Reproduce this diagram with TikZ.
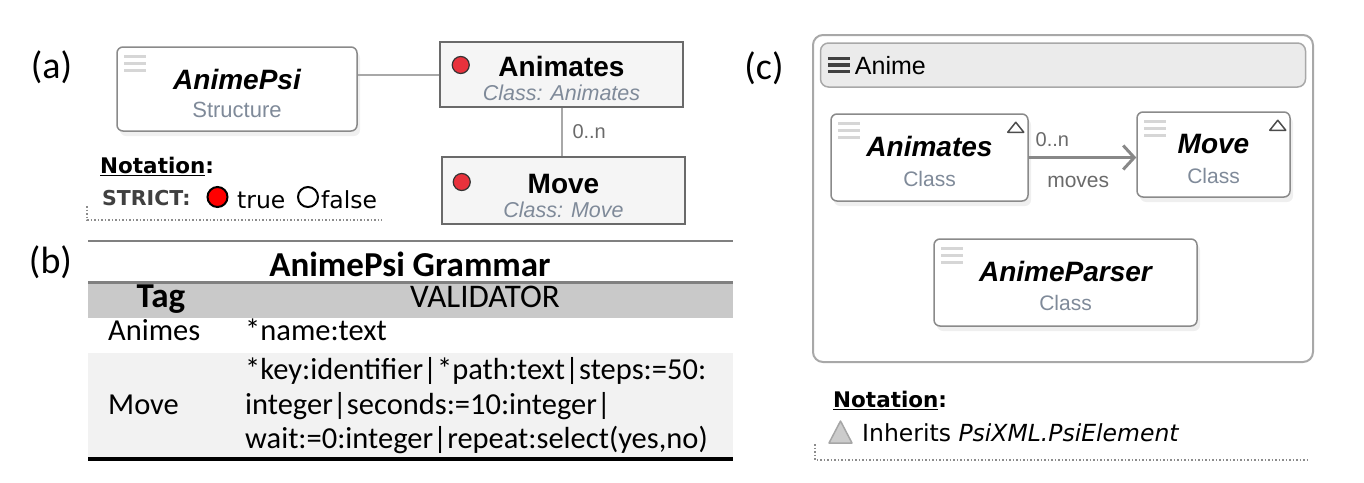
\documentclass[tikz,border=0pt]{standalone}
\usepackage{fontspec}
\setmainfont{Liberation Sans}
\newfontfamily\gramfont{Carlito}
\newfontfamily\notefont{DejaVu Sans}
\usepackage{xcolor}
\usetikzlibrary{positioning, arrows.meta, calc, shadows}
\definecolor{boxgray}{HTML}{8A8A8A}
\definecolor{darkgray}{HTML}{6A6A6A}
\definecolor{subblue}{HTML}{7F8A99}
\definecolor{linegray}{HTML}{A8A8A8}
\definecolor{menugray}{HTML}{D6D6D6}
\definecolor{pkgfill}{HTML}{EBEBEB}
\definecolor{headfill}{HTML}{C9C9C9}
\definecolor{rowfill}{HTML}{F2F2F2}
\definecolor{strictred}{HTML}{E8323C}
\definecolor{dotgray}{HTML}{8C8C8C}

\newcommand{\tallstrut}[1]{\rule{0pt}{#1}}
\newcommand{\clsname}[1]{{\fontsize{28}{30}\selectfont\bfseries\itshape #1}}

\tikzset{
  elembox/.style={draw=boxgray, fill=white, line width=1.5pt, rounded corners=6pt,
    align=center, inner sep=0pt, font=\fontsize{21}{30}\selectfont,
    drop shadow={shadow xshift=3pt, shadow yshift=-5pt, opacity=.12}},
  strictbox/.style={draw=darkgray, fill=black!4, line width=2.5pt, align=center,
    inner sep=0pt, font=\fontsize{21.5}{27}\selectfont},
  reddot/.style={circle, draw=black!80, fill=strictred, line width=1.2pt,
    minimum size=17pt, inner sep=0pt},
  menuline/.style={menugray, line width=2.5pt},
  inhtri/.style={draw=black!70, fill=white, line width=1.5pt, line join=round},
  notetext/.style={font=\notefont\fontsize{23.5}{28}\selectfont, inner sep=0pt},
  notehead/.style={font=\notefont\bfseries\fontsize{21.5}{26}\selectfont, inner sep=0pt},
  gramtext/.style={font=\gramfont\fontsize{30.5}{34.5}\selectfont, inner sep=0pt},
  gramhead/.style={font=\gramfont\bfseries\fontsize{35}{40}\selectfont, inner sep=0pt},
  figlabel/.style={font=\gramfont\fontsize{38}{40}\selectfont, inner sep=0pt},
  multtext/.style={text=darkgray, font=\fontsize{20}{22}\selectfont, inner sep=0pt},
  notedots/.style={dotgray, line width=1.5pt, dotted},
}

\begin{document}
\begin{tikzpicture}[x=1pt, y=-1pt]
  \useasboundingbox (0,0) rectangle (1364,482);

  % (a) structure
  \node[figlabel] (labela) at (51.5,67.5) {(a)};
  \node[elembox, minimum width=240pt, minimum height=84pt, font=\fontsize{22}{30}\selectfont]
    (animepsi) at (237,89)
    {\tallstrut{30pt}\clsname{AnimePsi}\\[-2pt]
     \textcolor{subblue}{Structure}};
  \node[strictbox, minimum width=243pt, minimum height=65pt] (animates) at (561.5,74.5)
    {\tallstrut{28pt}{\fontsize{28}{28}\selectfont\bfseries Animates}\\[-3pt]
     \textcolor{subblue}{\itshape Class: Animates}};
  \node[strictbox, minimum width=243pt, minimum height=67pt] (move) at (563.5,190.5)
    {\tallstrut{30pt}{\fontsize{28}{28}\selectfont\bfseries Move}\\[-3pt]
     \textcolor{subblue}{\itshape Class: Move}};
  \node[reddot] (animatesdot) at ($(animates.west)+(22,-9.5)$) {};
  \node[reddot] (movedot) at ($(move.west)+(21,-8.5)$) {};

  \draw[linegray, line width=2pt] (animepsi.east |- animates.west) -- (animates.west);
  \draw[linegray, line width=2pt] (animates.south) -- (animates.south |- move.north)
    node[multtext, midway, right=10pt] (multa) {0..n};

  \node[notehead, anchor=base west] (notationa) at (100,173) {\underline{Notation}:};
  \node[notehead, anchor=base west, text=black!75, font=\notefont\bfseries\fontsize{20.5}{22}\selectfont]
    (strict) at (102,205) {STRICT:};
  \node[circle, draw=black, fill=red, line width=2pt, minimum size=20pt, inner sep=0pt]
    (truedot) at (217.5,197) {};
  \node[notetext, anchor=base west] (truetext) at (237,208) {true};
  \node[circle, draw=black, fill=white, line width=2pt, minimum size=20pt, inner sep=0pt]
    (falsedot) at (308,197) {};
  \node[notetext, anchor=base west] (falsetext) at (321,208) {false};
  \draw[notedots] (87,206) -- (87,220) -- (382,220);

  % (b) grammar table
  \node[figlabel] (labelb) at (50.5,262.5) {(b)};
  \draw[gray, line width=2.5pt] (88,241) -- (733,241);
  \node[gramhead, anchor=base] (gramtitle) at (410,276) {AnimePsi Grammar};
  \fill[headfill] (88,281) rectangle (733,318);
  \draw[gray, line width=3pt] (88,282) -- (733,282);
  \node[gramhead, anchor=base] (taghead) at (161,307) {Tag};
  \node[gramtext, anchor=base, font=\gramfont\fontsize{33}{40}\selectfont] (validhead) at (485,307) {VALIDATOR};
  \node[gramtext, anchor=base west] (animesrow) at (108,340) {Animes};
  \node[gramtext, anchor=base west] (animesval) at (245,340) {*name:text};
  \fill[rowfill] (88,353) rectangle (733,457);
  \node[gramtext, anchor=base west] (moverow) at (108,414) {Move};
  \node[gramtext, anchor=west, align=left] (moveval) at (245,406)
    {*key:identifier|*path:text|steps:=50:\\integer|seconds:=10:integer|\\wait:=0:integer|repeat:select(yes,no)};
  \draw[black, line width=3.5pt] (88,459) -- (733,459);

  % (c) package
  \node[figlabel] (labelc) at (764,68.5) {(c)};
  \node[draw=linegray, fill=white, line width=2pt, rounded corners=10pt,
        minimum width=500pt, minimum height=327pt, inner sep=0pt] (animepkg) at (1063,198.5) {};
  \node[draw=linegray, fill=pkgfill, line width=1.5pt, rounded corners=8pt,
        minimum width=485pt, minimum height=44pt, inner sep=0pt] (animehead) at (1063,65) {};
  \foreach \d in {-6.5,0,6.5}
    \draw[black!75, line width=3.5pt] ($(animehead.west)+(8,\d)$) -- ++(22,0);
  \node[anchor=base west, font=\fontsize{25}{30}\selectfont, inner sep=0pt] (animetitle)
    at ($(animehead.west)+(35,9.5)$) {Anime};

  \node[elembox, minimum width=197pt, minimum height=87pt] (animatesc) at (929.5,157.5)
    {\tallstrut{29pt}\clsname{Animates}\\ \textcolor{subblue}{Class}};
  \node[elembox, minimum width=153pt, minimum height=85pt] (movec) at (1213.5,154.5)
    {\tallstrut{29pt}\clsname{Move}\\ \textcolor{subblue}{Class}};
  \node[elembox, minimum width=263pt, minimum height=87pt] (parserc) at (1065.5,282.5)
    {\tallstrut{28pt}\clsname{AnimeParser}\\[-1pt] \textcolor{subblue}{Class}};

  \foreach \n in {animepsi, animatesc, movec, parserc}
    \foreach \d in {10,17,24}
      \draw[menuline] ($(\n.north west)+(8,\d)$) -- ++(22,0);
  \foreach \n in {animatesc, movec}
    \draw[inhtri] ($(\n.north east)+(-21,19)$) -- ++(16,0) -- ++(-8,-10) -- cycle;

  \draw[darkgray!80, line width=3pt, -{Straight Barb[length=11pt, width=24pt]}]
    (animatesc.east) -- (animatesc.east -| movec.west)
    node[multtext, pos=0.22, above=9pt] (multc) {0..n}
    node[multtext, pos=0.46, below=17pt, font=\fontsize{21}{24}\selectfont] (rolec) {moves};

  \node[notehead, anchor=base west] (notationc) at (833,407) {\underline{Notation}:};
  \draw[draw=black!35, fill=black!20, line width=1.5pt, line join=round]
    (829,443) -- (852,443) -- (840.5,421) -- cycle;
  \node[notetext, anchor=base west] (inherits) at (862,441) {Inherits \textit{PsiXML.PsiElement}};
  \draw[notedots] (815,444) -- (815,460) -- (1310,460);
\end{tikzpicture}
\end{document}
